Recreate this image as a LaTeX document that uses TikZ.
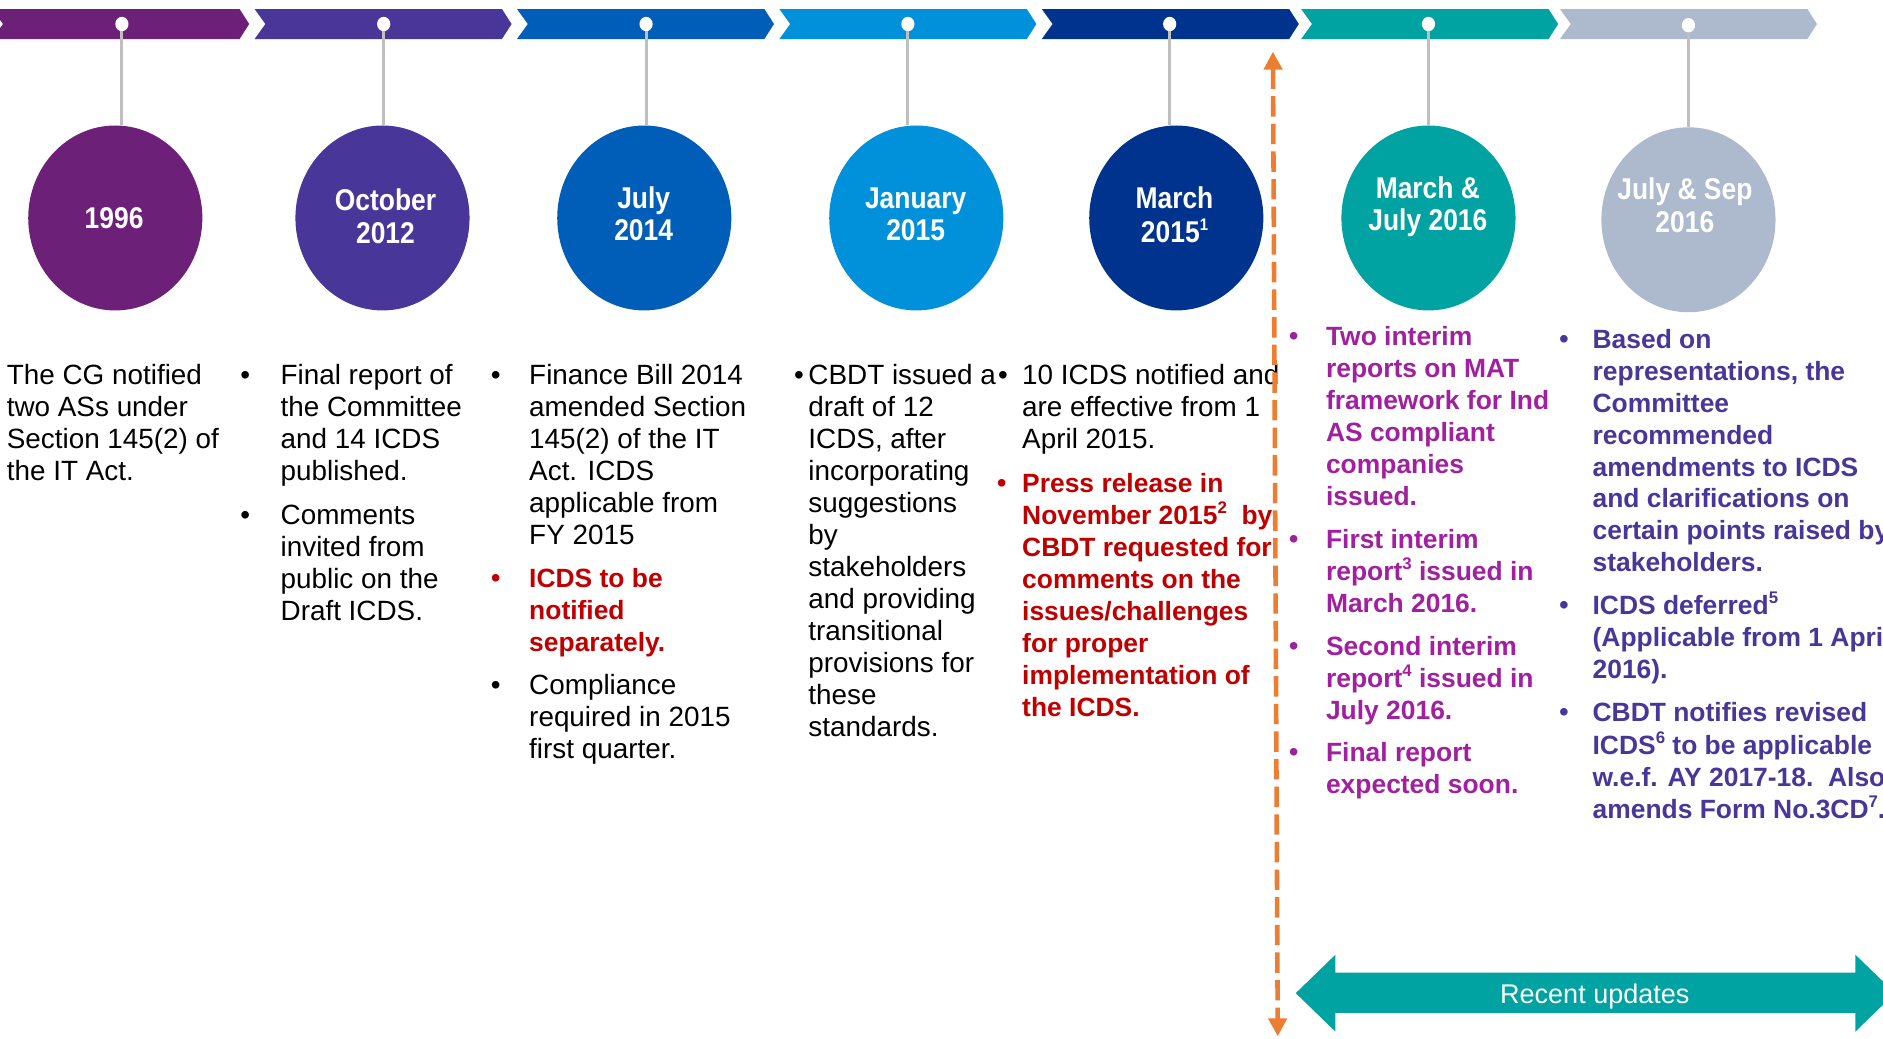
\documentclass[tikz,border=0pt]{standalone}
\usepackage{fontspec}
\setmainfont{Liberation Sans}
\newfontfamily\datefont{Liberation Sans}[FakeStretch=0.88]
\usetikzlibrary{shapes.geometric,arrows.meta}

\definecolor{cPurple}{HTML}{6D2077}
\definecolor{cViolet}{HTML}{483698}
\definecolor{cMid}{HTML}{005EB8}
\definecolor{cLight}{HTML}{0091DA}
\definecolor{cDark}{HTML}{00338D}
\definecolor{cTeal}{HTML}{00A3A1}
\definecolor{cGrey}{HTML}{ADB9CC}
\definecolor{cRed}{HTML}{C00000}
\definecolor{cMag}{HTML}{A0209F}
\definecolor{cOrange}{HTML}{ED7D31}
\definecolor{cStem}{HTML}{BFBFBF}

% multi-line blocks whose baseline is the first line
\newcommand\ml[1]{\begin{tabular}[t]{@{}l@{}}#1\end{tabular}}
\newcommand\mc[1]{\begin{tabular}[t]{@{}c@{}}#1\end{tabular}}
% small footnote marks
\newcommand\fn[1]{\raisebox{0.42em}{\fontsize{14}{14}\selectfont #1}}

\begin{document}
\begin{tikzpicture}[x=1pt,y=-1pt,
  body/.style={inner sep=0, anchor=base west, font=\fontsize{23.2}{26.6}\selectfont},
  hot/.style={inner sep=0, anchor=base west, font=\fontsize{22}{26.6}\selectfont\bfseries},
  bul/.style={inner sep=0, anchor=base west, font=\fontsize{23.2}{26.6}\selectfont},
  datecirc/.style={ellipse, minimum width=145, minimum height=154, inner sep=0},
  datelbl/.style={inner sep=0, anchor=base, text=white, font=\datefont\fontsize{25}{27}\selectfont\bfseries},
  dot/.style={ellipse, fill=white, inner sep=0, minimum width=11, minimum height=12},
  stem/.style={draw=cStem, line width=2.5},
]
\useasboundingbox (0,0) rectangle (1568,865);
\clip (0,0) rectangle (1568,865);
\fill[white] (0,0) rectangle (1568,865);

% chevron band
\foreach \xo/\c in {-6.5/cPurple, 212/cViolet, 430.5/cMid, 649/cLight, 867.5/cDark, 1083.5/cTeal, 1299/cGrey}{
  \fill[\c] (\xo,7.5) -- ++(206,0) -- ++(8,12.5) -- ++(-8,12.5) -- ++(-206,0) -- ++(9,-12.5) -- cycle;
}

% date circles
\node[datecirc, fill=cPurple] (e1) at (96,181.5) {};
\node[datecirc, fill=cViolet] (e2) at (318.5,181.5) {};
\node[datecirc, fill=cMid]    (e3) at (536.5,181.5) {};
\node[datecirc, fill=cLight]  (e4) at (763,181.5) {};
\node[datecirc, fill=cDark]   (e5) at (979.5,181.5) {};
\node[datecirc, fill=cTeal]   (e6) at (1189.5,181.5) {};
\node[datecirc, fill=cGrey]   (e7) at (1406,183) {};

% markers on the band
\node[dot] (d1) at (101.5,20) {};
\node[dot] (d2) at (319.5,20) {};
\node[dot] (d3) at (538,20) {};
\node[dot] (d4) at (756,20) {};
\node[dot] (d5) at (974,20) {};
\node[dot] (d6) at (1189.5,20) {};
\node[dot] (d7) at (1406,21) {};

% stems from markers to circles
\foreach \i in {1,...,7}{
  \draw[stem] (d\i.south) -- (d\i.south |- e\i.north);
}

% date labels
\node[datelbl] (l1) at (95,190) {1996};
\node[datelbl] (l2) at (321,175.4) {\mc{October\\2012}};
\node[datelbl] (l3) at (536,173.5) {\mc{July\\2014}};
\node[datelbl] (l4) at (762.5,173.5) {\mc{January\\2015}};
\node[datelbl] (l5) at (978,174) {\mc{March\\2015\fn{1}}};
\node[datelbl] (l6) at (1189,165) {\mc{March \&\\July 2016}};
\node[datelbl] (l7) at (1403,166.5) {\mc{July \& Sep\\2016}};

% column 1
\node[body] (t1) at (5.5,320.5) {\ml{The CG notified\\two ASs under\\Section 145(2) of\\the IT Act.}};

% column 2
\node[bul] (b2a) at (200,320.5) {•};
\node[body] (t2a) at (233.5,320.5) {\ml{Final report of\\the Committee\\and 14 ICDS\\published.}};
\node[bul] (b2b) at (200,436.5) {•};
\node[body] (t2b) at (233.5,436.5) {\ml{Comments\\invited from\\public on the\\Draft ICDS.}};

% column 3
\node[bul] (b3a) at (408.5,320.5) {•};
\node[body] (t3a) at (440.5,320.5) {\ml{Finance Bill 2014\\amended Section\\145(2) of the IT\\Act. ICDS\\applicable from\\FY 2015}};
\node[bul, text=cRed] (b3b) at (408.5,489.5) {•};
\node[hot, text=cRed] (t3b) at (440.5,489.5) {\ml{ICDS to be\\notified\\separately.}};
\node[bul] (b3c) at (408.5,578.5) {•};
\node[body] (t3c) at (440.5,578.5) {\ml{Compliance\\required in 2015\\first quarter.}};

% column 4
\node[bul] (b4a) at (661,320.5) {•};
\node[body] (t4a) at (673,320.5) {\ml{CBDT issued a\\draft of 12\\ICDS, after\\incorporating\\suggestions\\by\\stakeholders\\and providing\\transitional\\provisions for\\these\\standards.}};

% column 5
\node[bul] (b5a) at (831,320.5) {•};
\node[body] (t5a) at (851,320.5) {\ml{10 ICDS notified and\\are effective from 1\\April 2015.}};
\node[bul, text=cRed] (b5b) at (830,410) {•};
\node[hot, text=cRed] (t5b) at (851,410) {\ml{Press release in\\November 2015\fn{2}\ \ by\\CBDT requested for\\comments on the\\issues/challenges\\for proper\\implementation of\\the ICDS.}};

% column 6
\node[bul, text=cMag] (b6a) at (1073,288) {•};
\node[hot, text=cMag] (t6a) at (1104,288) {\ml{Two interim\\reports on MAT\\framework for Ind\\AS compliant\\companies\\issued.}};
\node[bul, text=cMag] (b6b) at (1073,456.5) {•};
\node[hot, text=cMag] (t6b) at (1104,456.5) {\ml{First interim\\report\fn{3} issued in\\March 2016.}};
\node[bul, text=cMag] (b6c) at (1073,545.5) {•};
\node[hot, text=cMag] (t6c) at (1104,545.5) {\ml{Second interim\\report\fn{4} issued in\\July 2016.}};
\node[bul, text=cMag] (b6d) at (1073,634) {•};
\node[hot, text=cMag] (t6d) at (1104,634) {\ml{Final report\\expected soon.}};

% column 7
\node[bul, text=cViolet] (b7a) at (1298,290) {•};
\node[hot, text=cViolet] (t7a) at (1326,290) {\ml{Based on\\representations, the\\Committee\\recommended\\amendments to ICDS\\and clarifications on\\certain points raised by\\stakeholders.}};
\node[bul, text=cViolet] (b7b) at (1298,511.5) {•};
\node[hot, text=cViolet] (t7b) at (1326,511.5) {\ml{ICDS deferred\fn{5}\\(Applicable from 1 April\\2016).}};
\node[bul, text=cViolet] (b7c) at (1298,601) {•};
\node[hot, text=cViolet] (t7c) at (1326,601) {\ml{CBDT notifies revised\\ICDS\fn{6} to be applicable\\w.e.f. AY 2017-18.\ \ Also\\amends Form No.3CD\fn{7}.}};

% divider between past and recent events
\coordinate (vtop) at (1060,43);
\coordinate (vbot) at (1064,863);
\draw[cOrange, line width=3.8, dash pattern=on 17 off 6,
  {Triangle[width=15,length=15]}-{Triangle[width=15,length=15]}] (vtop) -- (vbot);

% recent updates span
\fill[cTeal] (1079,827) -- (1112,795) -- (1112,810) -- (1545,810) -- (1545,795) -- (1578,827)
  -- (1545,859) -- (1545,843.5) -- (1112,843.5) -- (1112,859) -- cycle;
\node[inner sep=0, anchor=base, text=white, font=\fontsize{22.5}{27}\selectfont] (ru) at (1328,836) {Recent updates};
\end{tikzpicture}
\end{document}
